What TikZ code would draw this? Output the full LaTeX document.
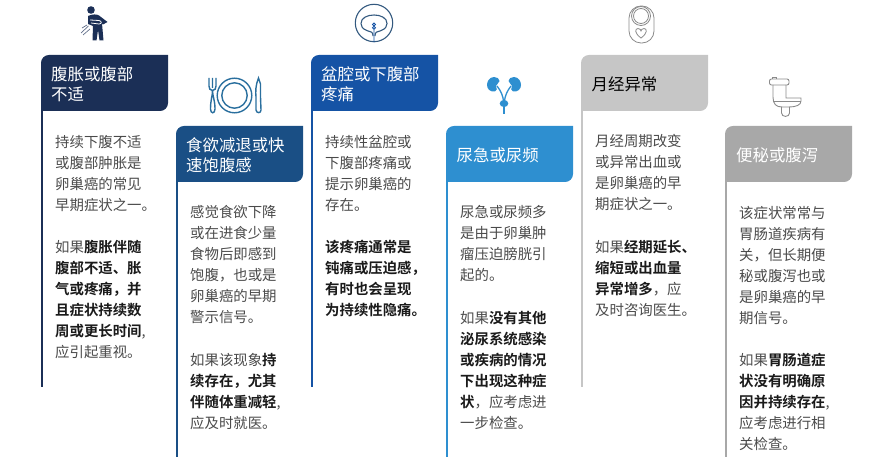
\documentclass[tikz,border=0pt]{standalone}
\usepackage{fontspec}
\setmainfont[BoldFont={Noto Sans CJK SC Bold}]{Noto Sans CJK SC}
\definecolor{cA}{HTML}{1B2F56}
\definecolor{cB}{HTML}{1A4F85}
\definecolor{cC}{HTML}{1553A5}
\definecolor{cD}{HTML}{2E8FD0}
\definecolor{cE}{HTML}{C6C6C6}
\definecolor{cF}{HTML}{A8A8A8}
\definecolor{bodytext}{HTML}{4A4A4A}
\definecolor{strongtext}{HTML}{1A1A1A}
\definecolor{iconline}{HTML}{33597F}
\definecolor{plateline}{HTML}{2A6F9E}
\definecolor{greyline}{HTML}{8A8A8A}
\newcommand{\kw}[1]{{\bfseries\color{strongtext}#1}}
\tikzset{
  para/.style={anchor=north west,inner sep=0pt,align=left,text=bodytext,
    font=\fontsize{14.4}{21}\selectfont},
  head/.style={anchor=west,inner sep=0pt,align=left,text=white,
    font=\fontsize{16.4}{20}\selectfont},
  sideline/.style={line width=2pt}
}
\newcommand{\tabbox}[4]{% x, y, colour, bottom of side line
  \draw[sideline,#3] (#1+1,#2+50) -- (#1+1,#4);
  \fill[#3] (#1,#2+56) -- (#1,#2+8) .. controls (#1,#2+3.5) and (#1+3.5,#2) .. (#1+8,#2) -- (#1+127,#2) -- (#1+127,#2+48) .. controls (#1+127,#2+52.5) and (#1+123.5,#2+56) .. (#1+119,#2+56) -- cycle;
}
\begin{document}
\begin{tikzpicture}[x=1pt,y=-1pt]
\useasboundingbox (0,0) rectangle (880,457);
\tabbox{41}{55}{cA}{387}
\tabbox{176}{126}{cB}{457}
\tabbox{311}{55}{cC}{387}
\tabbox{446}{126}{cD}{457}
\tabbox{581}{55}{cE}{387}
\tabbox{725}{126}{cF}{457}
% headers
\node[head] (h1) at (51,84) {腹胀或腹部\\不适};
\node[head] (h2) at (186,155.5) {食欲减退或快\\速饱腹感};
\node[head] (h3) at (321,84) {盆腔或下腹部\\疼痛};
\node[head] (h4) at (456.5,155) {尿急或尿频};
\node[head,text=black] (h5) at (591.5,84) {月经异常};
\node[head] (h6) at (736,155) {便秘或腹泻};
% body
\node[para] (p1a) at (55,135) {持续下腹不适\\或腹部肿胀是\\卵巢癌的常见\\早期症状之一。};
\node[para] (p1b) at (55,240) {如果\kw{腹胀伴随}\\\kw{腹部不适、胀}\\\kw{气或疼痛，并}\\\kw{且症状持续数}\\\kw{周或更长时间},\\应引起重视。};
\node[para] (p2a) at (190,205.5) {感觉食欲下降\\或在进食少量\\食物后即感到\\饱腹，也或是\\卵巢癌的早期\\警示信号。};
\node[para] (p2b) at (190,353) {如果该现象\kw{持}\\\kw{续存在，尤其}\\\kw{伴随体重减轻},\\应及时就医。};
\node[para] (p3a) at (325,135) {持续性盆腔或\\下腹部疼痛或\\提示卵巢癌的\\存在。};
\node[para] (p3b) at (325,240) {\kw{该疼痛通常是}\\\kw{钝痛或压迫感，}\\\kw{有时也会呈现}\\\kw{为持续性隐痛。}};
\node[para] (p4a) at (460,205.5) {尿急或尿频多\\是由于卵巢肿\\瘤压迫膀胱引\\起的。};
\node[para] (p4b) at (460,311) {如果\kw{没有其他}\\\kw{泌尿系统感染}\\\kw{或疾病的情况}\\\kw{下出现这种症}\\\kw{状}，应考虑进\\一步检查。};
\node[para] (p5a) at (595,134.5) {月经周期改变\\或异常出血或\\是卵巢癌的早\\期症状之一。};
\node[para] (p5b) at (595,240) {如果\kw{经期延长、}\\\kw{缩短或出血量}\\\kw{异常增多}，应\\及时咨询医生。};
\node[para] (p6a) at (739,206) {该症状常常与\\胃肠道疾病有\\关，但长期便\\秘或腹泻也或\\是卵巢癌的早\\期信号。};
\node[para] (p6b) at (739,353) {如果\kw{胃肠道症}\\\kw{状没有明确原}\\\kw{因并持续存在},\\应考虑进行相\\关检查。};
% icon: person
\fill[cA] (91,10) circle (3.8);
\fill[cA] (88,16) .. controls (92,14) and (97,14) .. (99,15.5) -- (107.5,22) -- (103,24.5) -- (102,23.5) -- (103.5,40.5) -- (99.5,40.5) -- (98,30) -- (96.5,40.5) -- (92.5,40.5) -- (93,26) -- (88,24) -- cycle;
\draw[white,line width=.8pt] (90,20) -- (99,20.5) .. controls (102,21) and (102,24) .. (99,24) -- (91,23);
\draw[cA!70,line width=.7pt] (81,33) -- (88.5,26) (83,35) -- (90,29) (82,28) -- (87,25);
% icon: plate
\begin{scope}[plateline,line width=1.4pt]
\draw (234.5,95.5) circle (17.3) (234.5,95.5) circle (12.7);
\draw (209,78) -- (209,86) .. controls (209,89) and (210,90) .. (212.5,90.5) .. controls (215,90) and (216,89) .. (216,86) -- (216,78) (212.5,78) -- (212.5,88);
\draw (212.5,90.5) .. controls (212.5,96) and (210.5,100) .. (210.5,109) .. controls (210.5,114) and (215,114) .. (215,109) .. controls (215,100) and (212.5,96) .. (212.5,90.5);
\draw (258.5,78) .. controls (255.5,85) and (255.5,92) .. (256,97) -- (256,110) .. controls (256.5,113.5) and (261,113.5) .. (261,110) -- (260.5,97) -- (260.5,84) -- cycle;
\end{scope}
% icon: pelvis
\begin{scope}[iconline,line width=1.1pt]
\draw (374,23) circle (18.7);
\draw (368,31) .. controls (362,29) and (361,26) .. (361,23.5) .. controls (361,18) and (367,15) .. (374,15) .. controls (381,15) and (387,18) .. (387,23.5) .. controls (387,26) and (386,29) .. (380,31);
\draw (368,31) .. controls (371,31.5) and (373,32) .. (373,36) (380,31) .. controls (377,31.5) and (375,32) .. (375,36);
\draw[cC,line width=.9pt] (374,24.5) circle (1.4) (374,27.8) circle (1.5) (374,29.5) -- (374,42.5);
\end{scope}
% icon: kidneys
\begin{scope}[cD]
\fill (494,77) .. controls (489,77) and (487,82) .. (487,85) .. controls (487,89) and (490,92) .. (495,91.5) .. controls (497.5,91) and (497,88) .. (496,86) .. controls (496,84) and (499,84) .. (499.5,81) .. controls (499.5,78.5) and (497,77) .. (494,77) -- cycle;
\fill (514,77) .. controls (519,77) and (521,82) .. (521,85) .. controls (521,89) and (518,92) .. (513,91.5) .. controls (510.5,91) and (511,88) .. (512,86) .. controls (512,84) and (509,84) .. (508.5,81) .. controls (508.5,78.5) and (511,77) .. (514,77) -- cycle;
\draw[line width=1.3pt] (497,86) .. controls (501,91) and (503,96) .. (503.5,101) (511,86) .. controls (507,91) and (505,96) .. (504.5,101);
\fill (504,103.5) ellipse (4.3 and 3.6);
\draw[line width=1.8pt] (504,104) -- (504,114.5);
\end{scope}
% icon: pill
\begin{scope}[greyline,line width=.8pt]
\draw[rounded corners=12] (629,6) rectangle (654,43);
\draw (641,16) circle (9.5) (641,16) circle (7.5);
\draw (641,38) .. controls (634,33) and (635,28.5) .. (638,28.5) .. controls (640,28.5) and (641,30) .. (641,31) .. controls (641,30) and (642,28.5) .. (644,28.5) .. controls (647,28.5) and (648,33) .. (641,38) -- cycle;
\end{scope}
% icon: toilet
\begin{scope}[greyline,line width=.9pt]
\draw[rounded corners=2] (769.5,79) rectangle (789,85);
\draw (772,79) -- (772,77.5) -- (776,77.5) -- (776,79);
\draw (773,85) -- (773,97) .. controls (773,104) and (776,107) .. (782,107);
\draw (786,85) -- (786,98) -- (801,98) -- (801,101) .. controls (801,105) and (796,107) .. (789,107) -- (782,107);
\draw (773.5,101.5) -- (801,101.5);
\draw (781.5,107) -- (781.5,113) .. controls (781.5,117.5) and (789.5,117.5) .. (789.5,113) -- (789.5,107);
\end{scope}
\end{tikzpicture}
\end{document}
